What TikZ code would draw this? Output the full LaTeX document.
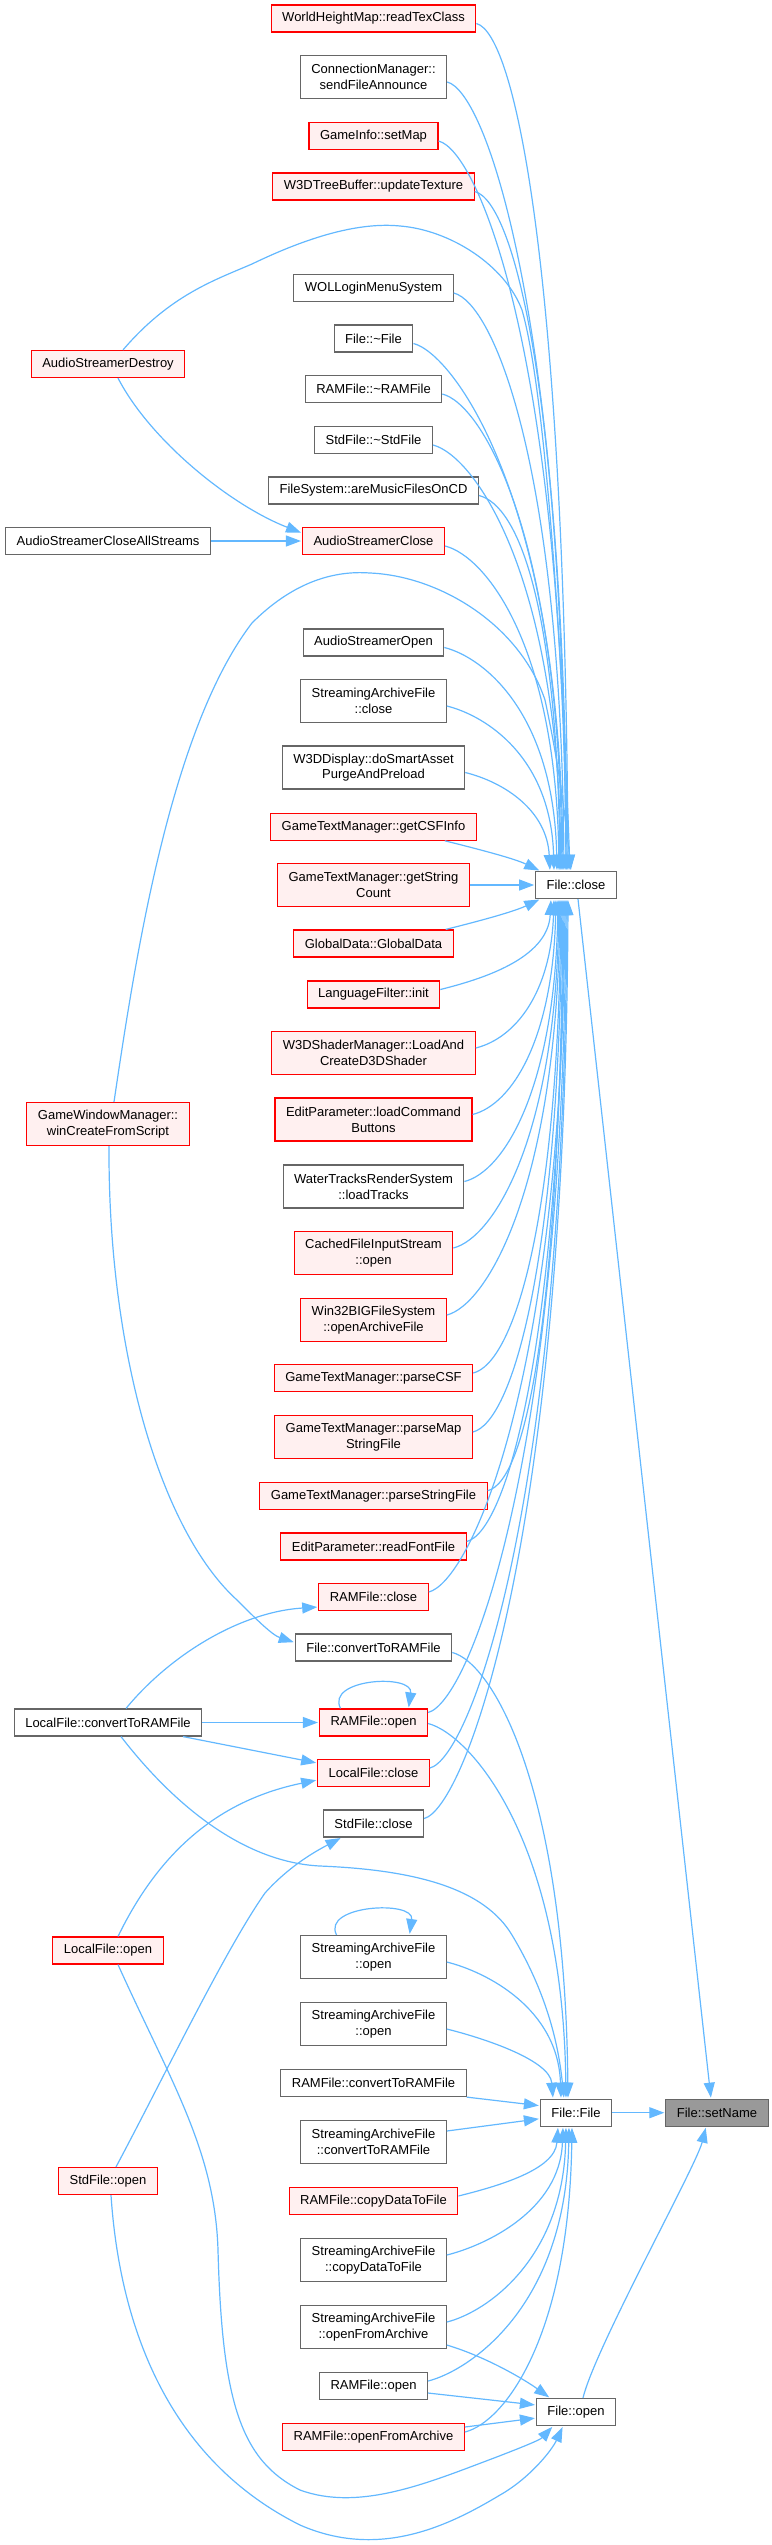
\documentclass[tikz,border=0pt]{standalone}
\usepackage{fontspec}
\setmainfont{Liberation Sans}
\usetikzlibrary{arrows.meta}

\definecolor{edgeblue}{HTML}{63B8FF}
\definecolor{boxgrey}{HTML}{666666}
\definecolor{rootgrey}{HTML}{999999}
\definecolor{truncfill}{HTML}{FFF0F0}

\begin{document}
\begin{tikzpicture}[
        x=1pt, y=-1pt,
        box/.style={
            rectangle,
            draw=boxgrey,
            fill=white,
            line width=1.15pt,
            inner xsep=11pt,
            inner ysep=2pt,
            minimum height=27pt,
            align=center,
            font=\fontsize{13}{15.7}\selectfont
        },
        truncbox/.style={box, draw=red, fill=truncfill},
        rootbox/.style={box, fill=rootgrey},
        tall/.style={minimum height=43pt},
        arrow/.style={
            draw=edgeblue,
            line width=1.2pt,
            -{Triangle[length=15pt,width=11pt]},
            shorten >=1pt
        }
    ]
    \useasboundingbox (0,0) rectangle (771,2545);

    % Nodes
    \node[truncbox] (whm) at (373.5,18.5) {WorldHeightMap::readTexClass};
    \node[box, tall] (cman) at (373.5,77) {ConnectionManager::\\sendFileAnnounce};
    \node[truncbox] (gisetmap) at (373.5,136) {GameInfo::setMap};
    \node[truncbox] (w3dtree) at (373.5,186.5) {W3DTreeBuffer::updateTexture};
    \node[box] (wol) at (373.5,288) {WOLLoginMenuSystem};
    \node[box] (fdtor) at (373.5,338.5) {File::\textasciitilde File};
    \node[truncbox] (asdestroy) at (108,364) {AudioStreamerDestroy};
    \node[box] (ramdtor) at (373.5,389) {RAMFile::\textasciitilde RAMFile};
    \node[box] (stddtor) at (373.5,440) {StdFile::\textasciitilde StdFile};
    \node[box] (fsmusic) at (373.5,490.5) {FileSystem::areMusicFilesOnCD};
    \node[box] (asclall) at (108,541) {AudioStreamerCloseAllStreams};
    \node[truncbox] (asclose) at (373.5,541) {AudioStreamerClose};
    \node[box] (asopen) at (373.5,642.5) {AudioStreamerOpen};
    \node[box, tall] (saclose) at (373.5,701) {StreamingArchiveFile\\::close};
    \node[box, tall] (w3ddisp) at (373.5,767.5) {W3DDisplay::doSmartAsset\\PurgeAndPreload};
    \node[truncbox] (gtmcsfinfo) at (373.5,826.7) {GameTextManager::getCSFInfo};
    \node[truncbox, tall] (gtmcount) at (373.5,885) {GameTextManager::getString\\Count};
    \node[box] (fclose) at (576,885) {File::close};
    \node[truncbox] (gdata) at (373.5,943.5) {GlobalData::GlobalData};
    \node[truncbox] (lfinit) at (373.5,994.5) {LanguageFilter::init};
    \node[truncbox, tall] (w3dshader) at (373.5,1053) {W3DShaderManager::LoadAnd\\CreateD3DShader};
    \node[truncbox, tall] (epcmd) at (373.5,1119.5) {EditParameter::loadCommand\\Buttons};
    \node[truncbox, tall] (gwm) at (108,1124) {GameWindowManager::\\winCreateFromScript};
    \node[box, tall] (wtrack) at (373.5,1186.5) {WaterTracksRenderSystem\\::loadTracks};
    \node[truncbox, tall] (cfis) at (373.5,1253) {CachedFileInputStream\\::open};
    \node[truncbox, tall] (w32big) at (373.5,1320) {Win32BIGFileSystem\\::openArchiveFile};
    \node[truncbox] (gtmcsf) at (373.5,1378) {GameTextManager::parseCSF};
    \node[truncbox, tall] (gtmmap) at (373.5,1437) {GameTextManager::parseMap\\StringFile};
    \node[truncbox] (gtmstr) at (373.5,1495.7) {GameTextManager::parseStringFile};
    \node[truncbox] (epfont) at (373.5,1546.5) {EditParameter::readFontFile};
    \node[truncbox] (ramclose) at (373.5,1597) {RAMFile::close};
    \node[box] (fconv) at (373.5,1647.5) {File::convertToRAMFile};
    \node[box] (lfconv) at (108,1722.5) {LocalFile::convertToRAMFile};
    \node[truncbox] (ramopen) at (373.5,1722.5) {RAMFile::open};
    \node[truncbox] (lfclose) at (373.5,1773) {LocalFile::close};
    \node[box] (sfclose) at (373.5,1823.5) {StdFile::close};
    \node[truncbox] (lfopen) at (108,1950.5) {LocalFile::open};
    \node[box, tall] (saopen) at (373.5,1957) {StreamingArchiveFile\\::open};
    \node[box, tall] (saopenb) at (373.5,2024) {StreamingArchiveFile\\::open};
    \node[box] (ramconv) at (373.5,2083) {RAMFile::convertToRAMFile};
    \node[box] (ffile) at (576,2112.7) {File::File};
    \node[rootbox] (setname) at (717,2112.7) {File::setName};
    \node[box, tall] (saconv) at (373.5,2142) {StreamingArchiveFile\\::convertToRAMFile};
    \node[truncbox] (sfopen) at (108,2181) {StdFile::open};
    \node[truncbox] (ramcopy) at (373.5,2201) {RAMFile::copyDataToFile};
    \node[box, tall] (sacopy) at (373.5,2260) {StreamingArchiveFile\\::copyDataToFile};
    \node[box, tall] (saarch) at (373.5,2327) {StreamingArchiveFile\\::openFromArchive};
    \node[box] (ramopenb) at (373.5,2386) {RAMFile::open};
    \node[box] (fopen) at (576,2412) {File::open};
    \node[truncbox] (ramarch) at (373.5,2437) {RAMFile::openFromArchive};

    % Arrows into File::close
    \foreach \src/\tx/\len in {whm/-8/590, cman/-9/550, gisetmap/-10/515, w3dtree/-10/474,
            wol/-12/405, fdtor/-13/373, ramdtor/-14/336, stddtor/-15/300, fsmusic/-16/264,
            asclose/-17/227, asopen/-19/157, saclose/-22/113, w3ddisp/-26/60}
        \draw[arrow] ([yshift=-5pt]\src.east) .. controls +(40,10) and +(-3,-\len) .. ([xshift=\tx pt]fclose.north);
    \foreach \src/\tx/\len in {lfinit/-25/60, w3dshader/-22/93, epcmd/-20/139, wtrack/-18/188,
            cfis/-17/239, w32big/-16/288, gtmcsf/-15/326, gtmmap/-14/362, gtmstr/-13/408,
            epfont/-12/445, ramclose/-11/489, lfclose/-9/610, sfclose/-8/648}
        \draw[arrow] ([yshift=5pt]\src.east) .. controls +(40,-10) and +(-3,\len) .. ([xshift=\tx pt]fclose.south);
    \draw[arrow] ([yshift=10pt]ramopen.east) .. controls +(40,-10) and +(-3,568) .. ([xshift=-10pt]fclose.south);
    \draw[arrow] ([xshift=-32pt]gtmcsfinfo.south east) .. controls +(40,10) and +(-25,-12) .. ([xshift=5pt]fclose.north west);
    \draw[arrow] (gtmcount.east) -- (fclose.west);
    \draw[arrow] ([xshift=-8pt]gdata.north east) .. controls +(40,-10) and +(-25,12) .. ([xshift=5pt]fclose.south west);
    \draw[arrow] ([xshift=15pt]asdestroy.north) .. controls (170,295) and (215,280) .. (252,264)
        .. controls (310,236) and (360,222) .. (400,226) .. controls (450,230) and (505,265) .. (522,310)
        .. controls (548,400) and (564,700) .. ([xshift=-6pt]fclose.north);
    \draw[arrow] ([xshift=6pt]gwm.north) .. controls (135,960) and (170,730) .. (252,623)
        .. controls (290,585) and (330,570) .. (370,573) .. controls (440,576) and (520,625) .. (545,700)
        .. controls (558,760) and (566,820) .. ([xshift=-5pt]fclose.north);

    % Other callers
    \draw[arrow] (asclall.east) -- (asclose.west);
    \draw[arrow] ([xshift=10pt]asdestroy.south) .. controls (150,440) and (230,505) .. ([yshift=8pt]asclose.west);
    \draw[arrow] ([xshift=1pt]gwm.south) .. controls (108,1350) and (160,1530) .. (237,1600)
        .. controls (255,1618) and (272,1635) .. ([yshift=5pt]fconv.west);
    \draw[arrow] ([xshift=18pt]lfconv.north) .. controls (170,1655) and (240,1612) .. ([yshift=-10pt]ramclose.west);
    \draw[arrow] (lfconv.east) -- (ramopen.west);
    \draw[arrow] ([xshift=75pt]lfconv.south) -- ([yshift=10pt]lfclose.west);
    \draw[arrow] ([xshift=13pt]lfconv.south) .. controls (170,1800) and (240,1862) .. (320,1866)
        .. controls (420,1870) and (485,1890) .. (512,1935) .. controls (545,1990) and (558,2040) .. ([xshift=-12pt]ffile.north);
    \draw[arrow] ([xshift=10pt]lfopen.north) .. controls (160,1850) and (220,1800) .. ([yshift=-7pt]lfclose.west);
    \draw[arrow] ([xshift=10pt]lfopen.south) .. controls (170,2080) and (215,2150) .. (218,2250)
        .. controls (222,2400) and (240,2460) .. (300,2490) .. controls (360,2512) and (430,2482) .. (494,2458)
        .. controls (520,2448) and (540,2440) .. ([xshift=-23pt]fopen.south);
    \draw[arrow] ([xshift=8pt]sfopen.north) .. controls (165,2075) and (225,1950) .. (265,1893)
        .. controls (290,1865) and (318,1850) .. ([xshift=-32pt]sfclose.south);
    \draw[arrow] ([xshift=3pt]sfopen.south) .. controls (120,2330) and (170,2460) .. (300,2525)
        .. controls (380,2560) and (450,2525) .. (500,2495) .. controls (530,2478) and (552,2450) .. ([xshift=-13pt]fopen.south);

    % Self calls
    \draw[arrow] ([xshift=-33pt]ramopen.north) .. controls +(-15,-30) and +(5,-35) .. ([xshift=35pt]ramopen.north);
    \draw[arrow] ([xshift=-37pt]saopen.north) .. controls +(-15,-30) and +(5,-35) .. ([xshift=36pt]saopen.north);

    % Arrows into File::File
    \foreach \src/\tx/\len in {fconv/-8/312, saopen/-15/90, saopenb/-23/38}
        \draw[arrow] ([yshift=-5pt]\src.east) .. controls +(40,10) and +(-3,-\len) .. ([xshift=\tx pt]ffile.north);
    \draw[arrow] ([yshift=-1pt]ramopen.east) .. controls +(40,10) and +(-3,-263) .. ([xshift=-10pt]ffile.north);
    \foreach \src/\tx/\len in {ramcopy/-18/43, sacopy/-13/83, saarch/-10/132, ramopenb/-7/181, ramarch/-4/209}
        \draw[arrow] ([yshift=5pt]\src.east) .. controls +(40,-10) and +(-3,\len) .. ([xshift=\tx pt]ffile.south);
    \draw[arrow] (ramconv.south east) -- ([yshift=7pt]ffile.west);
    \draw[arrow] ([yshift=11pt]saconv.east) -- ([yshift=-6pt]ffile.west);

    % Arrows into File::open
    \draw[arrow] ([yshift=-18pt]saarch.east) .. controls +(40,12) and +(-25,-18) .. ([xshift=-26pt]fopen.north);
    \draw[arrow] ([yshift=-7pt]ramopenb.east) -- ([yshift=7pt]fopen.west);
    \draw[arrow] ([yshift=10pt]ramarch.east) -- ([yshift=-6pt]fopen.west);

    % Arrows into File::setName
    \draw[arrow] (ffile.east) -- (setname.west);
    \draw[arrow] ([xshift=2pt]fclose.south) -- ([xshift=-6pt]setname.north);
    \draw[arrow] ([xshift=7pt]fopen.north) .. controls +(12,-50) and +(-10,40) .. ([xshift=-11pt]setname.south);

\end{tikzpicture}
\end{document}
